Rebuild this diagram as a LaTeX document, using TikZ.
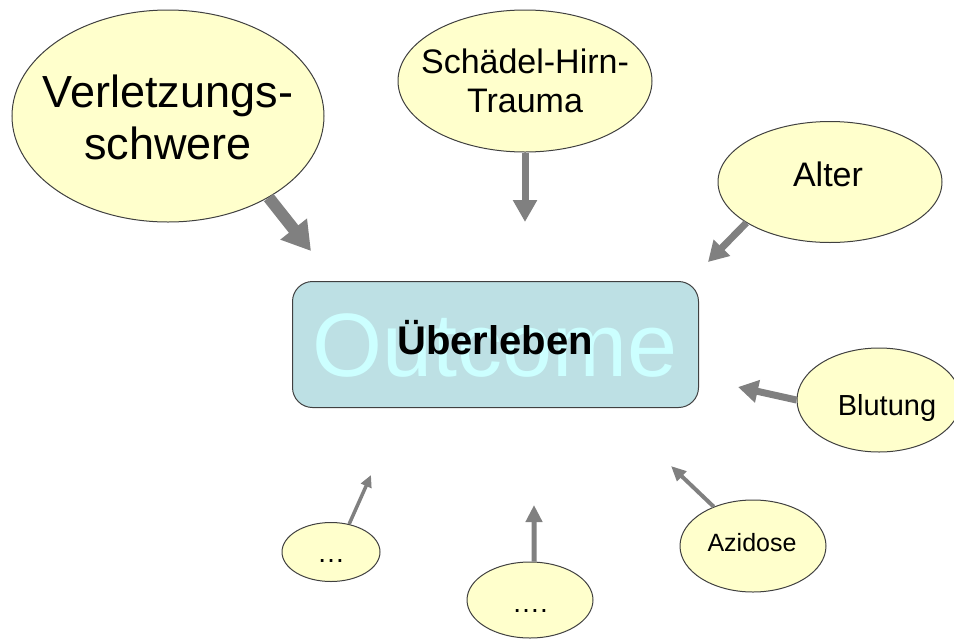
\documentclass[tikz,border=0pt]{standalone}
\usepackage{fontspec}
\setmainfont{Liberation Sans}
\usetikzlibrary{shapes.geometric,arrows.meta}
\definecolor{ellfill}{HTML}{FFFFCC}
\definecolor{ellline}{HTML}{404040}
\definecolor{boxfill}{HTML}{BDE0E4}
\definecolor{outcol}{HTML}{CCFFFF}
\definecolor{arrgray}{HTML}{808080}
\tikzset{
  ell/.style={ellipse, draw=ellline, line width=1pt, fill=ellfill, inner sep=0pt},
  lbl/.style={inner sep=0pt, align=center, text=black},
  arr/.style={draw=arrgray, line cap=butt},
}
\newcommand{\fs}[2]{\fontsize{#1}{#2}\selectfont}
\begin{document}
\begin{tikzpicture}[x=1pt,y=-1pt]
\useasboundingbox (0,0) rectangle (954,638);
% outcome box
\node[rectangle, rounded corners=20pt, draw=ellline, line width=1pt, fill=boxfill,
      minimum width=406pt, minimum height=126pt, inner sep=0pt] (box) at (495.5,344.5) {};
\node[lbl, text=outcol, font=\fs{90}{100}] (outc) at (495,346) {Outcome};
\node[lbl, font=\fs{40}{46}\bfseries] (ueb) at (495,338) {Überleben};
% ellipses
\node[ell, minimum width=312pt, minimum height=212pt] (verl) at (168,116) {};
\node[lbl, font=\fs{45}{52}] (verlT) at (168,117) {Verletzungs-\\schwere};
\node[ell, minimum width=254pt, minimum height=142pt] (sht) at (525,81) {};
\node[lbl, font=\fs{34}{39}] (shtT) at (525,81) {Schädel-Hirn-\\Trauma};
\node[ell, minimum width=224pt, minimum height=121pt] (alter) at (830,182) {};
\node[lbl, font=\fs{34}{38}] (alterT) at (828,174) {Alter};
\node[ell, minimum width=164pt, minimum height=104pt] (blut) at (879,400) {};
\node[lbl, font=\fs{29}{34}] (blutT) at (887,407.5) {Blutung};
\node[ell, minimum width=146pt, minimum height=92pt] (azid) at (753,546) {};
\node[lbl, font=\fs{25}{30}] (azidT) at (752,542.5) {Azidose};
\node[ell, minimum width=98pt, minimum height=59pt] (dotsA) at (331,552) {};
\node[lbl, anchor=base, font=\fs{28}{32}] (dotsAT) at (331,562) {…};
\node[ell, minimum width=126pt, minimum height=76pt] (dotsB) at (530,600) {};
\node[lbl, anchor=base, font=\fs{28}{32}] (dotsBT) at (530,612) {….};
% arrow tips
\coordinate (tV) at (311,251);
\coordinate (tS) at (525,222);
\coordinate (tA) at (708,262);
\coordinate (tB) at (738,387);
\coordinate (tZ) at (671,466);
\coordinate (tD1) at (371,475);
\coordinate (tD2) at (534,505);
% arrows
\draw[arr, line width=12pt, -{Triangle[length=28pt,width=32pt]}] (verl.-39) -- (tV);
\draw[arr, line width=7pt, -{Triangle[length=22pt,width=23pt]}] (sht.south) -- (tS);
\draw[arr, line width=7pt, -{Triangle[length=20pt,width=22pt]}] (alter.-154) -- (tA);
\draw[arr, line width=7pt, -{Triangle[length=20pt,width=22pt]}] (blut.180) -- (tB);
\draw[arr, line width=4pt, -{Triangle[length=15pt,width=13pt]}] (azid.135) -- (tZ);
\draw[arr, line width=3.5pt, -{Triangle[length=12pt,width=11pt]}] (dotsA.57) -- (tD1);
\draw[arr, line width=5pt, -{Triangle[length=17pt,width=16pt]}] (dotsB.84) -- (tD2);
\end{tikzpicture}
\end{document}
